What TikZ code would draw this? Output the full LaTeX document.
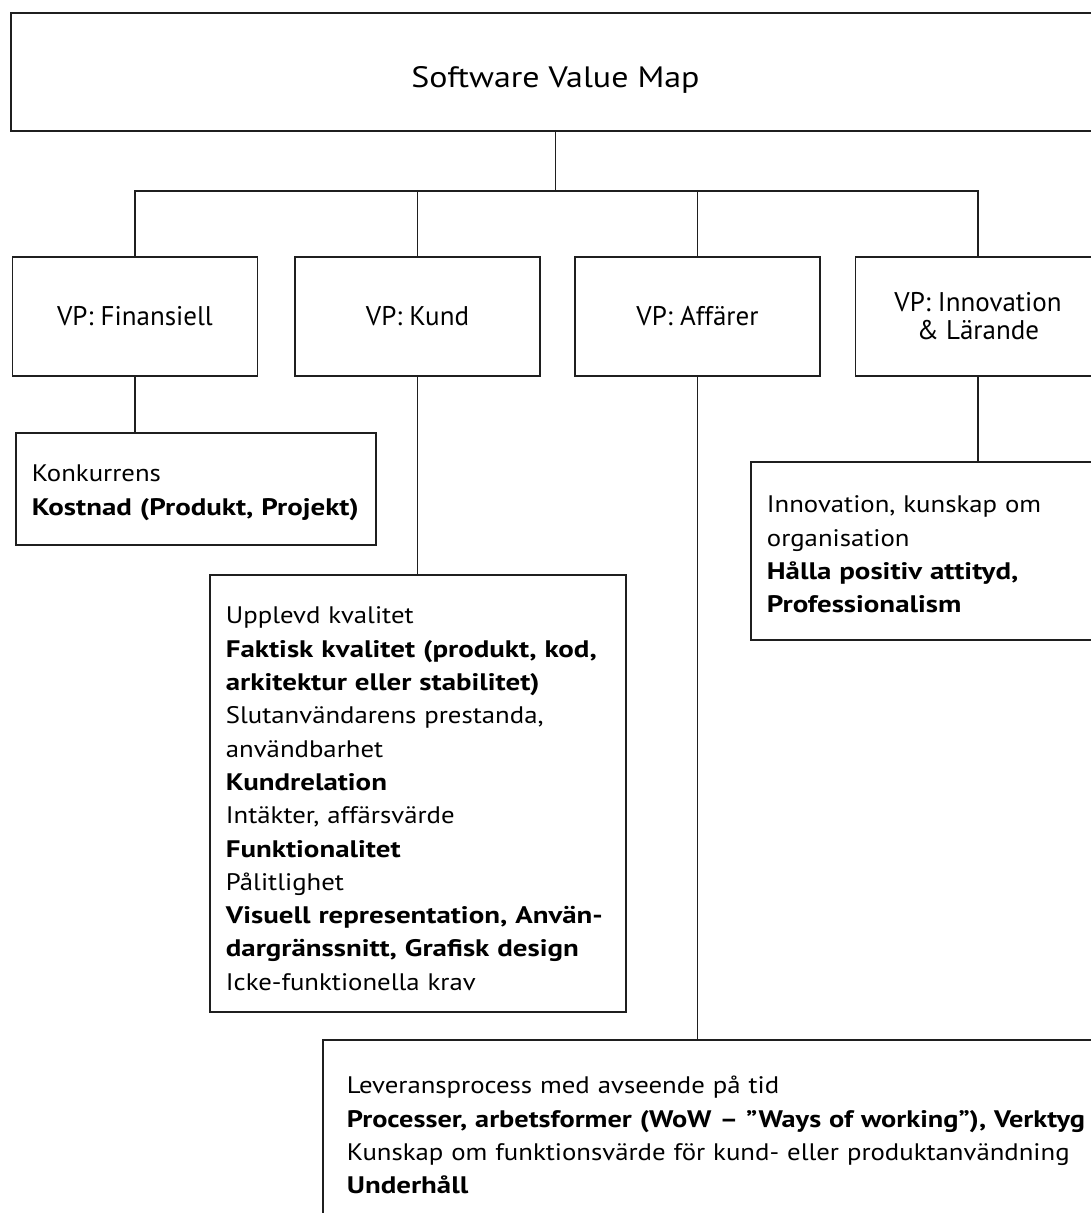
\documentclass[tikz,border=0pt]{standalone}
\usepackage{fontspec}
\setmainfont{PT Sans}
% text faces: body text, its bold runs, and the heading
\newfontfamily\kreg{PT Sans}[FakeStretch=1.12]
\newfontfamily\kbold{PT Sans Bold}[FakeStretch=1.21]
\newfontfamily\kboldnarrow{PT Sans Bold}[FakeStretch=1.185]
\newfontfamily\ktitle{PT Sans}[FakeStretch=1.15]
\newcommand\kb[1]{\mbox{\kbold #1}}
\newcommand\toprule[1]{\rule{0pt}{#1}}
\newcommand\botrule[1]{\rule[-#1]{0pt}{#1}}
\begin{document}
\begin{tikzpicture}[x=1pt,y=-1pt,
  box/.style={draw=black!88, line width=1.8pt},
  link/.style={draw=black!88, line width=1.8pt},
  vp/.style={box, minimum width=245pt, minimum height=119pt, inner sep=0pt,
    align=center, font=\fontsize{27}{28}\selectfont},
  info/.style={box, anchor=north west, inner xsep=16pt, inner ysep=0pt,
    align=left, font=\kreg\fontsize{23.9}{33.3}\selectfont},
]
\useasboundingbox (0,0) rectangle (1091,1213);
\clip (0,0) rectangle (1091,1213);

% root
\node[box, minimum width=1089pt, minimum height=118pt, inner sep=0pt,
  font=\ktitle\fontsize{29.5}{30}\selectfont, text height=30pt, text depth=0pt]
  (map) at (555.5,72) {Software Value Map};

% value perspectives
\node[vp] (fin)  at (135,316.5)   {VP: Finansiell};
\node[vp] (kund) at (417.5,316.5) {VP: Kund};
\node[vp] (aff)  at (697.5,316.5) {VP: Affärer};
\node[vp] (inn)  at (978,316.5)   {VP: Innovation\\\&~Lärande};

% detail boxes
\node[info, text width=328pt] (konk) at (15,432)
  {\toprule{49pt}Konkurrens\\
   \kb{Kostnad (Produkt, Projekt)}\botrule{30pt}};

\node[info, text width=384pt] (kdet) at (209,574)
  {\toprule{49pt}Upplevd kvalitet\\
   \kb{Faktisk kvalitet (produkt, kod,}\\
   \kb{arkitektur eller stabilitet)}\\
   Slutanvändarens prestanda,\\
   användbarhet\\
   \kb{Kundrelation}\\
   Intäkter, affärsvärde\\
   \kb{Funktionalitet}\\
   Pålitlighet\\
   \kb{Visuell representation, Använ-}\\
   \kb{dargränssnitt, Grafisk design}\\
   Icke-funktionella krav\botrule{22pt}};

\node[info, text width=318pt] (idet) at (750,461)
  {\toprule{51pt}Innovation, kunskap om\\
   organisation\\
   \kb{Hålla positiv attityd,}\\
   \kb{Professionalism}\botrule{27pt}};

\node[info, inner xsep=24pt, text width=900pt] (leve) at (322,1039)
  {\toprule{54pt}Leveransprocess med avseende på tid\\
   \mbox{\kboldnarrow Processer, arbetsformer (WoW – ”Ways of working”), Verktyg}\\
   Kunskap om funktionsvärde för kund- eller produktanvändning\\
   \kb{Underhåll}\botrule{60pt}};

% tree connectors
\coordinate (bus) at (555.5,191);
\draw[link] (map.south) -- (bus);
\draw[link] (fin.north) -- (fin.north |- bus) -- (inn.north |- bus) -- (inn.north);
\draw[link] (kund.north) -- (kund.north |- bus);
\draw[link] (aff.north) -- (aff.north |- bus);
\draw[link] (fin.south) -- (fin.south |- konk.north);
\draw[link] (kund.south) -- (kund.south |- kdet.north);
\draw[link] (aff.south) -- (aff.south |- leve.north);
\draw[link] (inn.south) -- (inn.south |- idet.north);
\end{tikzpicture}
\end{document}
